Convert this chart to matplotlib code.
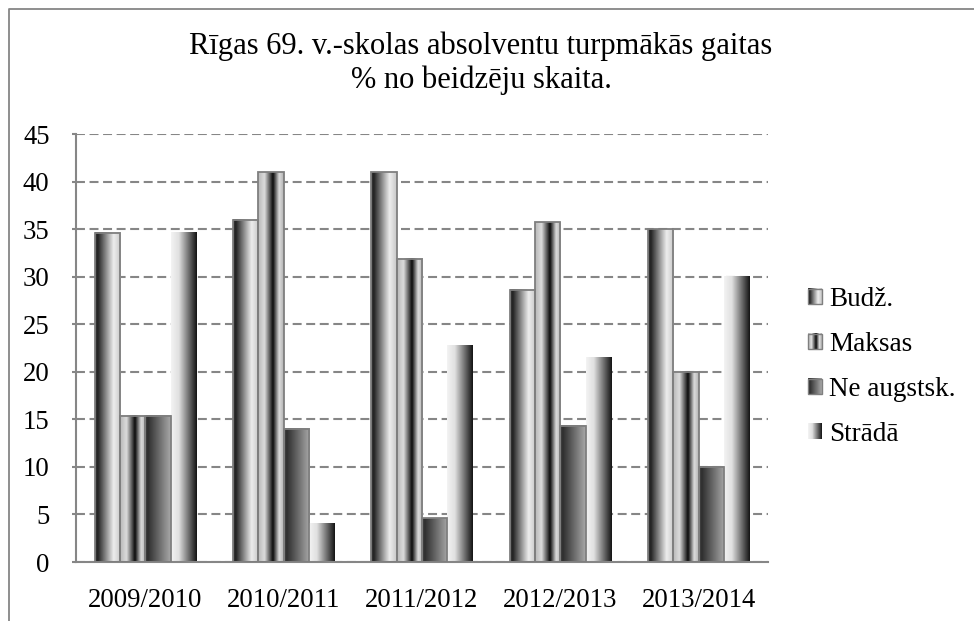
import numpy as np
import matplotlib
matplotlib.use("Agg")
import matplotlib.pyplot as plt
from matplotlib.lines import Line2D
from matplotlib.patches import Rectangle
from matplotlib.image import BboxImage
from matplotlib.transforms import Bbox, TransformedBbox
from matplotlib.legend_handler import HandlerBase

# ---- data ----
years = ["2009/2010", "2010/2011", "2011/2012", "2012/2013", "2013/2014"]
series_names = ["Budž.", "Maksas", "Ne augstsk.", "Strādā"]
budz = [34.6, 36.0, 41.0, 28.6, 35.0]
maksas = [15.4, 41.0, 31.9, 35.7, 20.0]
ne_augstsk = [15.4, 14.0, 4.6, 14.3, 10.0]
strada = [34.6, 4.0, 22.8, 21.5, 30.0]
yticks = [0, 5, 10, 15, 20, 25, 30, 35, 40, 45]
title = "Rīgas 69. v.-skolas absolventu turpmākās gaitas\n% no beidzēju skaita."

# ---- styles ----
FONT = "Liberation Serif"
GRAY = "#868686"
EDGE = "#7f7f7f"
stops = [
    [(0, 0.25), (0.1, 0.13), (0.72, 0.93), (1, 0.78)],            # Budž.
    [(0, 0.72), (0.25, 0.86), (0.58, 0.04), (0.82, 0.86), (1, 0.7)],  # Maksas
    [(0, 0.30), (0.1, 0.18), (1, 0.66)],                           # Ne augstsk.
    [(0, 0.95), (0.3, 0.88), (1, 0.08)],                           # Strādā
]
edges = [True, True, True, False]


def make_grad(st, n=64):
    xs = np.linspace(0, 1, n)
    return np.interp(xs, [s[0] for s in st], [s[1] for s in st])[np.newaxis, :]


grads = [make_grad(s) for s in stops]

fig = plt.figure(figsize=(9.74, 6.21), dpi=100)
ax = fig.add_axes([76 / 974, 1 - 562 / 621, (768 - 76) / 974, (562 - 134) / 621])

data = [budz, maksas, ne_augstsk, strada]
x = np.arange(len(years))
w = 0.183
for i, vals in enumerate(data):
    bars = ax.bar(x + (i - 1.5) * w, vals, w, facecolor="none",
                  edgecolor=EDGE if edges[i] else "none", linewidth=1.3, zorder=3,
                  label=series_names[i])
    for b in bars:
        x0, y0 = b.get_x(), b.get_y()
        ax.imshow(grads[i], extent=[x0, x0 + b.get_width(), y0, y0 + b.get_height()],
                  aspect="auto", cmap="gray", vmin=0, vmax=1, zorder=2,
                  interpolation="bilinear")

ax.set_xlim(-0.5, len(years) - 0.5)
ax.set_ylim(0, 45)
ax.set_yticks(yticks)
ax.set_xticks(x)
ax.set_xticklabels(years)
ax.set_axisbelow(True)
ax.yaxis.grid(True, linestyle=(0, (4.3, 2.2)), color=GRAY, linewidth=1.5, zorder=0.5)
for s in ["top", "right"]:
    ax.spines[s].set_visible(False)
for s in ["left", "bottom"]:
    ax.spines[s].set_color(GRAY)
    ax.spines[s].set_linewidth(1.5)
ax.tick_params(axis="y", length=3, color=GRAY, width=1.5, pad=16)
ax.tick_params(axis="x", length=0, pad=19)
for lab in ax.get_xticklabels() + ax.get_yticklabels():
    lab.set_fontfamily(FONT)
    lab.set_fontsize(19.3)
    lab.set_color("black")


class GradHandler(HandlerBase):
    def __init__(self, grad, edge):
        super().__init__()
        self.grad = grad
        self.edge = edge

    def legend_artist(self, legend, orig_handle, fontsize, handlebox):
        x0, y0 = -handlebox.xdescent, -handlebox.ydescent
        wd, ht = handlebox.width, handlebox.height
        bb = TransformedBbox(Bbox.from_bounds(x0, y0, wd, ht), handlebox.get_transform())
        img = BboxImage(bb, cmap="gray", norm=plt.Normalize(0, 1), interpolation="bilinear")
        img.set_data(self.grad)
        handlebox.add_artist(img)
        if self.edge:
            r = Rectangle((x0, y0), wd, ht, facecolor="none", edgecolor=EDGE, linewidth=1.0,
                          transform=handlebox.get_transform())
            handlebox.add_artist(r)
        return img


handles = [Rectangle((0, 0), 1, 1) for _ in series_names]
hmap = {h: GradHandler(grads[i], edges[i]) for i, h in enumerate(handles)}
leg = fig.legend(handles, series_names, handler_map=hmap, loc="center left",
                 bbox_to_anchor=(808 / 974, 1 - 367 / 621), frameon=False,
                 prop={"family": FONT, "size": 19.5}, handlelength=0.5, handleheight=0.5,
                 handletextpad=0.28, labelspacing=0.74, borderaxespad=0, borderpad=0)

fig.text(481 / 974, 1 - 63 / 621, title, ha="center", va="center",
         fontfamily=FONT, fontsize=22, linespacing=1.22)

# outer chart frame (left and top edges visible)
fig.add_artist(Line2D([8.5 / 974, 8.5 / 974, 1], [0, 1 - 8.5 / 621, 1 - 8.5 / 621],
                     transform=fig.transFigure, color=GRAY, linewidth=1.3))

fig.savefig("out.png", dpi=100)
